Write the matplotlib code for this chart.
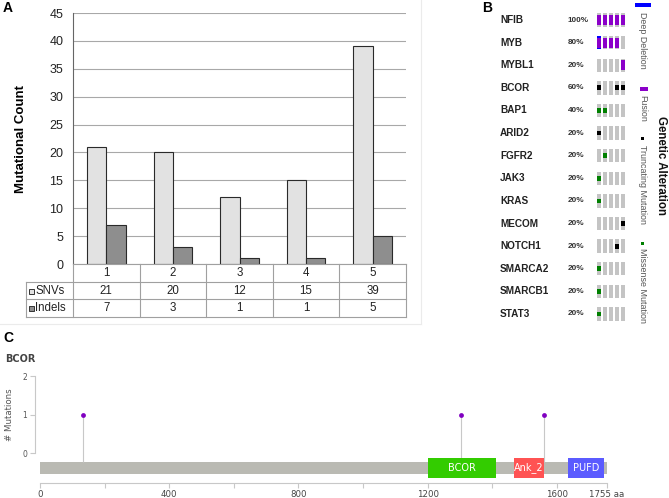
import numpy as np
import matplotlib
matplotlib.use("Agg")
import matplotlib.pyplot as plt
import matplotlib.transforms as mtransforms
from matplotlib.patches import Rectangle
from matplotlib.lines import Line2D

W, H = 669, 498

# ---- panel A: mutational counts per sample
samples = ["1", "2", "3", "4", "5"]
snvs = [21, 20, 12, 15, 39]
indels = [7, 3, 1, 1, 5]

# ---- panel B: oncoprint (D = deep deletion, F = fusion, T = truncating, M = missense)
genes = ["NFIB", "MYB", "MYBL1", "BCOR", "BAP1", "ARID2", "FGFR2", "JAK3",
         "KRAS", "MECOM", "NOTCH1", "SMARCA2", "SMARCB1", "STAT3"]
pct_altered = ["100%", "80%", "20%", "60%", "40%", "20%", "20%", "20%",
               "20%", "20%", "20%", "20%", "20%", "20%"]
alterations = [
    ["F", "F", "F", "F", "F"],
    ["DF", "F", "F", "F", ""],
    ["", "", "", "", "F"],
    ["T", "", "", "T", "T"],
    ["M", "M", "", "", ""],
    ["T", "", "", "", ""],
    ["", "M", "", "", ""],
    ["M", "", "", "", ""],
    ["M", "", "", "", ""],
    ["", "", "", "", "T"],
    ["", "", "", "T", ""],
    ["M", "", "", "", ""],
    ["M", "", "", "", ""],
    ["M", "", "", "", ""],
]
legend_labels = ["Deep Deletion", "Fusion", "Truncating Mutation", "Missense Mutation"]

# ---- panel C: BCOR lollipop
protein_length = 1755
domain_names = ["BCOR", "Ank_2", "PUFD"]
domain_start = [1201, 1467, 1634]
domain_end = [1412, 1560, 1746]
mut_pos = [133, 1302, 1561]
mut_count = [1, 1, 1]
x_ticks = [0, 200, 400, 600, 800, 1000, 1200, 1400, 1600, 1755]
x_ticklabels = ["0", "", "400", "", "800", "", "1200", "", "1600", "1755 aa"]


def box(x0, y0, x1, y1):
    # pixel box (top-left origin) -> figure fraction
    return [x0 / W, 1 - y1 / H, (x1 - x0) / W, (y1 - y0) / H]


def fx(x):
    return x / W


def fy(y):
    return 1 - y / H


plt.rcParams["font.family"] = ["Liberation Sans", "DejaVu Sans"]
fig = plt.figure(figsize=(W / 100, H / 100), dpi=100)

# faint chart-area border of panel A
fig.add_artist(Line2D([fx(421), fx(421)], [fy(0), fy(324)], color="#ebebeb", lw=0.8))
fig.add_artist(Line2D([fx(0), fx(421)], [fy(324), fy(324)], color="#ebebeb", lw=0.8))

# ================= panel A =================
axA = fig.add_axes(box(73, 13, 406, 264))
x = np.arange(len(samples))
bw = 0.29
axA.bar(x - bw / 2, snvs, bw, color="#e2e2e2", edgecolor="#2a2a2a", lw=0.8, zorder=3)
axA.bar(x + bw / 2, indels, bw, color="#8e8e8e", edgecolor="#2a2a2a", lw=0.8, zorder=3)
axA.set_xlim(-0.5, len(samples) - 0.5)
axA.set_ylim(0, 45)
axA.set_yticks(range(0, 46, 5))
axA.yaxis.grid(True, color="#a8a8a8", lw=0.8)
axA.set_axisbelow(True)
axA.set_xticks([])
for s in ["top", "right", "bottom"]:
    axA.spines[s].set_visible(False)
axA.spines["left"].set_color("#666666")
axA.tick_params(axis="y", length=0, pad=7, labelsize=9, labelcolor="#222222")
axA.set_ylabel("Mutational Count", fontweight="bold", fontsize=9.5)
axA.yaxis.set_label_coords((27 - 73) / 333, 0.5)

# data table under the bars
unit = (406 - 73) / len(samples)
tleft = -0.5 - (73 - 26) / unit
axT = fig.add_axes(box(26, 264, 406, 317))
axT.set_xlim(tleft, len(samples) - 0.5)
axT.set_ylim(3, 0)
axT.axis("off")
lc = dict(color="#a0a0a0", lw=0.8, clip_on=False)
axT.plot([-0.5, len(samples) - 0.5], [0, 0], **lc)
for yy in [1, 2, 3]:
    axT.plot([tleft, len(samples) - 0.5], [yy, yy], **lc)
axT.plot([tleft, tleft], [1, 3], **lc)
for xx in np.arange(-0.5, len(samples), 1.0):
    axT.plot([xx, xx], [0, 3], **lc)
for i, lab in enumerate(samples):
    axT.text(i, 0.5, lab, ha="center", va="center", fontsize=8.3, color="#222")
    axT.text(i, 1.5, str(snvs[i]), ha="center", va="center", fontsize=8.3, color="#222")
    axT.text(i, 2.5, str(indels[i]), ha="center", va="center", fontsize=8.3, color="#222")
for row, (name, col) in enumerate([("SNVs", "#e2e2e2"), ("Indels", "#8e8e8e")]):
    axT.plot(tleft + 0.08, row + 1.5, marker="s", ms=3.6, mfc=col, mec="#333", mew=0.7)
    axT.text(tleft + 0.14, row + 1.5, name, ha="left", va="center", fontsize=8.3, color="#222")

fig.text(fx(3), fy(8), "A", fontsize=10, fontweight="bold", ha="left", va="center")

# ================= panel B =================
axB = fig.add_axes(box(595.7, 8.7, 625.7, 325.3))
axB.set_xlim(-0.5, 4.5)
axB.set_ylim(len(genes) - 0.5, -0.5)
axB.axis("off")
cw = 0.667
ch = 0.59
for r, row in enumerate(alterations):
    cols = np.arange(len(row))
    axB.bar(cols, ch, cw, bottom=r - ch / 2, color="#c4c4c4", lw=0)
    for c, code in enumerate(row):
        if "D" in code:
            axB.bar(c, ch, cw, bottom=r - ch / 2, color="#0000ff", lw=0)
        if "F" in code:
            axB.bar(c, 0.44, cw, bottom=r - 0.22, color="#8b00c9", lw=0)
        if "T" in code:
            axB.bar(c, 0.21, cw, bottom=r - 0.105, color="#000000", lw=0)
        if "M" in code:
            axB.bar(c, 0.21, cw, bottom=r - 0.105, color="#008000", lw=0)

trB = mtransforms.blended_transform_factory(fig.transFigure, axB.transData)
for r, (g, p) in enumerate(zip(genes, pct_altered)):
    axB.text(fx(500), r, g, transform=trB, ha="left", va="center",
             fontsize=7.2, fontweight="bold", color="#222")
    axB.text(fx(568), r, p, transform=trB, ha="left", va="center",
             fontsize=5.9, fontweight="bold", color="#333")

fig.text(fx(482), fy(8), "B", fontsize=10, fontweight="bold", ha="left", va="center")

# legend (rotated)
fig.add_artist(Rectangle((fx(635), fy(7.5)), 16 / W, 4 / H, color="#0000ff", lw=0))
fig.add_artist(Rectangle((fx(639.5), fy(90.5)), 8 / W, 4 / H, color="#8b00c9", lw=0))
fig.add_artist(Rectangle((fx(641), fy(140)), 3 / W, 3 / H, color="#000000", lw=0))
fig.add_artist(Rectangle((fx(641), fy(245)), 3 / W, 3 / H, color="#008000", lw=0))
for lab, ytop in zip(legend_labels, [12.5, 95, 145, 248]):
    fig.text(fx(643), fy(ytop), lab, rotation=270, ha="center", va="top",
             fontsize=6.4, color="#555")
fig.text(fx(661.5), fy(165), "Genetic Alteration", rotation=270, ha="center",
         va="center", fontsize=8.3, fontweight="bold", color="#111")

# ================= panel C =================
px_aa = (607 - 40) / protein_length
px_mut = 453 - 414.7
axC = fig.add_axes(box(0, 365, 640, 498))
axC.set_xlim(-40 / px_aa, (640 - 40) / px_aa)
axC.set_ylim(-(498 - 453) / px_mut, (453 - 365) / px_mut)
axC.patch.set_alpha(0)

axC.barh(-(468 - 453) / px_mut, protein_length, height=12 / px_mut, left=0,
         color="#babab3", lw=0, zorder=1)
dom_cols = ["#33cc00", "#ff5353", "#5b5bff"]
for name, s, e, col in zip(domain_names, domain_start, domain_end, dom_cols):
    axC.barh(-0.39, e - s, height=0.52, left=s, color=col, lw=0, zorder=2)
    axC.text((s + e) / 2, -0.39, name, ha="center", va="center", color="white",
             fontsize=7, family="DejaVu Sans", zorder=3)

axC.vlines(mut_pos, -(462 - 453) / px_mut, mut_count, color="#c8c8c8", lw=0.8, zorder=1)
axC.scatter(mut_pos, mut_count, s=12, color="#8000c0", zorder=4, lw=0)

for s in ["top", "right"]:
    axC.spines[s].set_visible(False)
axC.spines["left"].set_position(("data", -16.4))
axC.spines["left"].set_bounds(0, 2)
axC.spines["bottom"].set_position(("data", -(483 - 453) / px_mut))
axC.spines["bottom"].set_bounds(0, protein_length)
for s in ["left", "bottom"]:
    axC.spines[s].set_color("#c8c8c8")
    axC.spines[s].set_linewidth(0.8)
axC.set_yticks([0, 1, 2])
axC.set_xticks(x_ticks)
axC.set_xticklabels(x_ticklabels)
axC.tick_params(axis="y", length=3.4, width=0.8, color="#c8c8c8", pad=2,
                labelsize=5.5, labelcolor="#555")
axC.tick_params(axis="x", length=3.4, width=0.8, color="#c8c8c8", pad=1.5,
                labelsize=6.2, labelcolor="#444")
for t in axC.get_xticklabels() + axC.get_yticklabels():
    t.set_family("DejaVu Sans")
axC.set_ylabel("# Mutations", fontsize=6.2, color="#555", family="DejaVu Sans")
axC.yaxis.set_label_coords(14 / 640, (498 - 415) / (498 - 365))

fig.text(fx(3), fy(338), "C", fontsize=10, fontweight="bold", ha="left", va="center")
fig.text(fx(5), fy(359), "BCOR", fontsize=7, fontweight="bold", color="#444",
         ha="left", va="center", family="DejaVu Sans")

fig.savefig("out.png", dpi=100)
